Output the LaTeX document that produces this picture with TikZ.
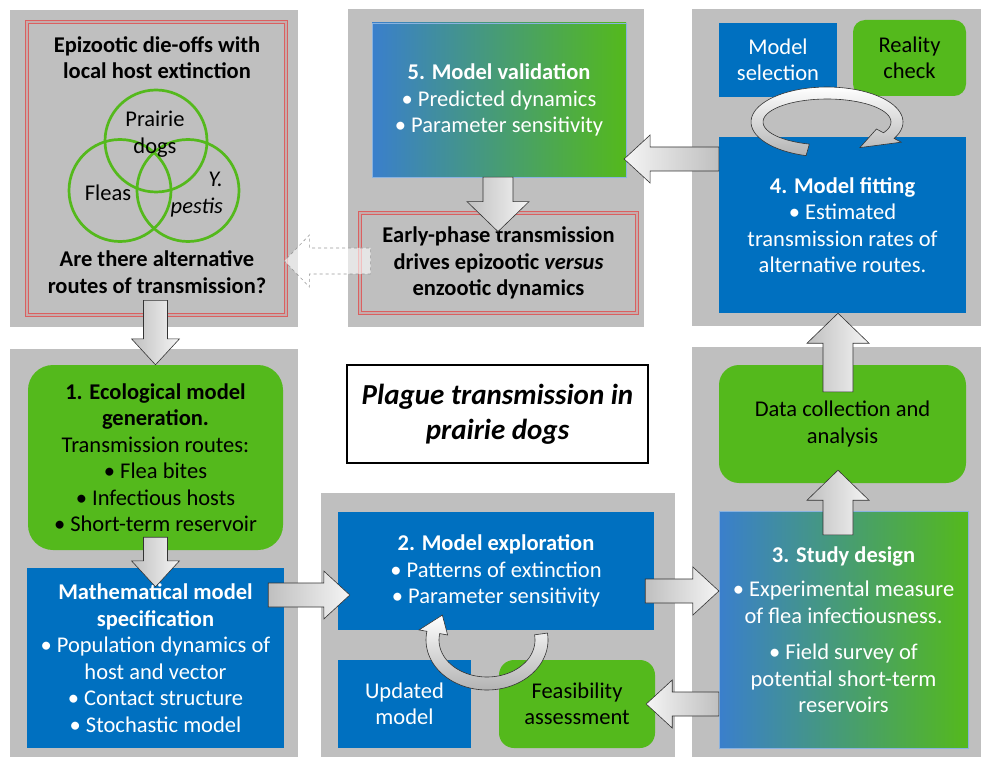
\documentclass[tikz,border=0pt]{standalone}
\usepackage{fontspec}
\setmainfont{Carlito}
\usetikzlibrary{calc}

\definecolor{panelgray}{RGB}{191,191,191}
\definecolor{boxblue}{RGB}{0,112,192}
\definecolor{boxgreen}{RGB}{84,185,28}
\definecolor{gradblue}{RGB}{58,127,204}
\definecolor{redline}{RGB}{218,96,96}

\begin{document}
\begin{tikzpicture}[x=1pt, y=-1pt,
	panel/.style={ fill=panelgray },
	txt/.style={ align=center, inner sep=0pt, font=\fontsize{22.5}{26.5}\selectfont },
	boldtxt/.style={ txt, font=\fontsize{22.5}{26.5}\selectfont\bfseries },
	wh/.style 2 args={ minimum width=#1pt, minimum height=#2pt },
	bluebox/.style={ txt, fill=boxblue, text=white },
	greenbox/.style={ txt, fill=boxgreen, text=black, rounded corners=#1pt },
	gradbox/.style={ txt, left color=gradblue, right color=boxgreen, draw=gradblue!60, very thin, text=white },
	redframe/.style={ boldtxt, draw=redline, line width=0.8pt, double=red!10!panelgray, double distance=1.8pt },
	venn/.style={ circle, draw=boxgreen, line width=2.7pt, minimum size=102pt, inner sep=0pt },
	arrowsize/.code n args={3}{\def\bw{#1}\def\hw{#2}\def\hl{#3}},
	arrowshape/.style={ arrowsize={12pt}{24pt}{26pt},
		to path={ let \p1=(\tikztostart), \p2=(\tikztotarget), \n1={atan2(\y2-\y1,\x2-\x1)} in
		($(\p1)+(\n1+90:\bw)$) -- ($(\p2)+(\n1+180:\hl)+(\n1+90:\bw)$) -- ($(\p2)+(\n1+180:\hl)+(\n1+90:\hw)$) -- (\p2)
		-- ($(\p2)+(\n1+180:\hl)+(\n1-90:\hw)$) -- ($(\p2)+(\n1+180:\hl)+(\n1-90:\bw)$) -- ($(\p1)+(\n1-90:\bw)$) -- cycle } },
	barrow/.style={ arrowshape, draw=black!80, line width=0.6pt, left color=black!25, right color=black!4 },
	bigarrow/.style={ barrow, arrowsize={15pt}{31pt}{30pt} },
	ghostarrow/.style={ arrowshape, arrowsize={13pt}{26pt}{25pt}, draw=black!40, dashed, line width=0.6pt, fill=white, fill opacity=0.6 },
	loopband/.style={ draw=black!80, line width=0.6pt, top color=white, bottom color=black!30 }
]
\useasboundingbox (0,0) rectangle (982,759);

\fill[panel] (10,10) rectangle (298,327);
\fill[panel] (348,9) rectangle (644,327);
\fill[panel] (692,9) rectangle (981,326);
\fill[panel] (10,349) rectangle (298,757);
\fill[panel] (321,493) rectangle (675,757);
\fill[panel] (692,347) rectangle (981,757);

% top left: the question
\node at (156.5,168.5) (frameA) [redframe, wh={259}{293}] {};
\node at (157,57.5) (qtop) [boldtxt] {Epizootic die-offs with\\local host extinction};
\node at (156,141) (dogs) [venn] {};
\node at (120,190.5) (fleas) [venn] {};
\node at (188,190.5) (pestis) [venn] {};
\node at (155,134) (dogslabel) [txt] {Prairie\\dogs};
\node at (108,193) (fleaslabel) [txt] {Fleas};
\node at (223,194.5) (pestislabel) [txt, align=right, anchor=east] {\textit{Y.}\\\textit{pestis}};
\node at (157,272) (qbottom) [boldtxt] {Are there alternative\\routes of transmission?};

% top middle
\node at (499,100) (valid) [gradbox, wh={254}{154}] {\textbf{5. Model validation}\\• Predicted dynamics\\• Parameter sensitivity};
\node at (498.5,263) (early) [redframe, wh={277}{100}] {Early-phase transmission\\drives epizootic \textit{versus}\\enzootic dynamics};

% top right
\node at (778,60) (select) [bluebox, wh={118}{74}] {Model\\selection};
\node at (909.5,58) (reality) [greenbox=12, wh={113}{76}] {Reality\\check};
\node at (842.5,225) (fitting) [bluebox, wh={247}{176}] {\textbf{4. Model fitting}\\• Estimated\\transmission rates of\\alternative routes.};

% bottom left
\node at (155.5,457.5) (eco) [greenbox=25, wh={255}{185}] {\textbf{1. Ecological model}\\\textbf{generation.}\\Transmission routes:\\• Flea bites\\• Infectious hosts\\• Short-term reservoir};
\node at (155.5,658) (math) [bluebox, wh={257}{180}] {\textbf{Mathematical model}\\\textbf{specification}\\• Population dynamics of\\host and vector\\• Contact structure\\• Stochastic model};

% bottom middle
\node at (496,571) (explore) [bluebox, wh={316}{118}] {\textbf{2. Model exploration}\\• Patterns of extinction\\• Parameter sensitivity};
\node at (404.5,704) (updated) [bluebox, wh={133}{88}] {Updated\\model};
\node at (577,704) (feas) [greenbox=15, wh={156}{88}] {Feasibility\\assessment};

% bottom right
\node at (842.5,424) (data) [greenbox=20, wh={247}{118}] {Data collection and\\analysis};
\node at (843.5,629.5) (study) [gradbox, wh={249}{237}] {\textbf{3. Study design}\\[8pt]• Experimental measure\\of flea infectiousness.\\[10pt]• Field survey of\\potential short-term\\reservoirs};

\node at (497.5,414) (title) [txt, draw, line width=1.6pt, fill=white, wh={301}{98}, font=\fontsize{29}{35}\selectfont\bfseries\itshape] {Plague transmission in\\prairie dogs};

\draw[barrow] ([xshift=-1pt,yshift=15pt]frameA.south) to (eco.north);
\draw[barrow] ([yshift=13pt]eco.south) to ([yshift=-19pt]math.north);
\draw[barrow] ([xshift=-16pt,yshift=63pt]math.east) to ([xshift=12pt,yshift=-24pt]explore.west);
\draw[barrow] ([xshift=-9pt,yshift=-20pt]explore.east) to ([yshift=38.5pt]study.west);
\draw[bigarrow] ([xshift=-5.5pt,yshift=-24pt]study.north) to ([xshift=-4.5pt,yshift=13pt]data.south);
\draw[bigarrow] ([xshift=-4.5pt,yshift=-27pt]data.north) to ([xshift=-4.5pt]fitting.south);
\draw[barrow, shading angle=270] ([yshift=66pt]fitting.west) to ([xshift=-2pt,yshift=-59pt]valid.east);
\draw[bigarrow] ([xshift=-1pt]valid.south) to ([xshift=-0.5pt,yshift=-19pt]early.north);
\draw[barrow, shading angle=270] ([yshift=-74.5pt]study.west) to ([xshift=-9pt]feas.east);
\draw[ghostarrow] ([xshift=11pt,yshift=2pt]early.west) to ([xshift=-2pt,yshift=-92.5pt]frameA.east);

% loops
\draw[loopband] plot[domain=106:388, samples=60] ({827+76*cos(\x)},{122+35*sin(\x)})
	-- ({827+84*cos(388)},{122+43*sin(388)}) -- ({827+70*cos(422)},{122+29*sin(422)})
	-- ({827+56*cos(388)},{122+15*sin(388)})
	-- plot[domain=388:106, samples=60] ({827+64*cos(\x)},{122+23*sin(\x)}) -- cycle;
\draw[loopband] plot[domain=-8:190, samples=60] ({487+61*cos(\x)},{640+50*sin(\x)})
	-- ({487+69*cos(190)},{640+58*sin(190)}) -- ({487+54.5*cos(215)},{640+43.5*sin(215)})
	-- ({487+40*cos(190)},{640+29*sin(190)})
	-- plot[domain=190:-8, samples=60] ({487+48*cos(\x)},{640+37*sin(\x)}) -- cycle;

\end{tikzpicture}
\end{document}
